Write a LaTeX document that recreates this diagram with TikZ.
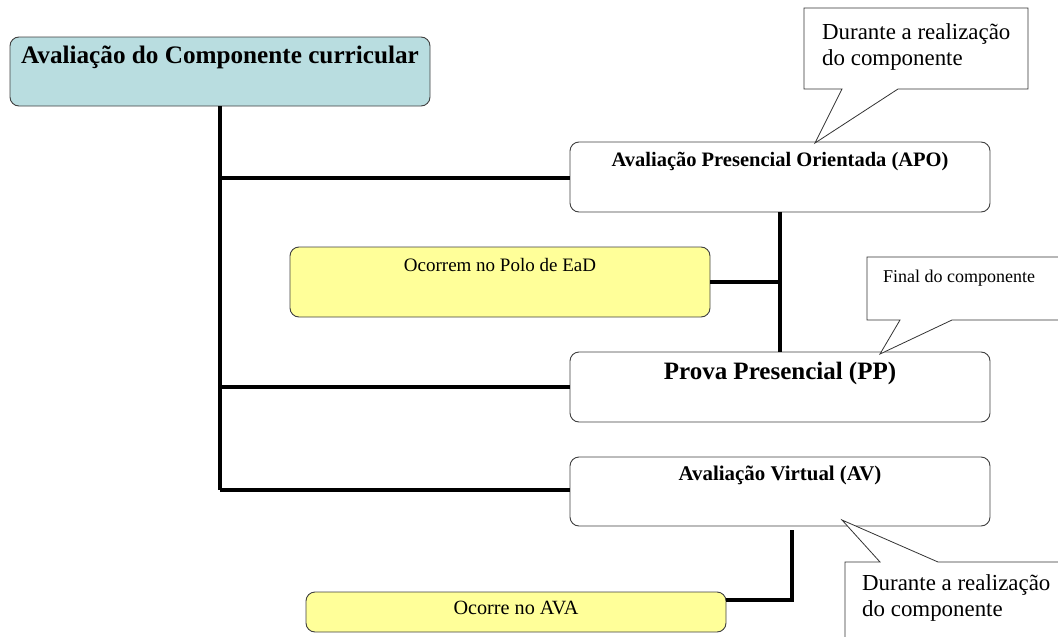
\documentclass[tikz,border=0pt]{standalone}
\usepackage{fontspec}
\setmainfont{Liberation Serif}
\begin{document}
\begin{tikzpicture}[x=1pt,y=-1pt,
  box/.style={draw=black!75, line width=0.9pt, rounded corners=9pt, inner sep=0pt},
  main/.style={box, fill=mainfill},
  yel/.style={box, fill=yelfill},
  wbox/.style={box, fill=white},
  conn/.style={line width=3.8pt, black},
  callout/.style={draw=black!80, line width=0.8pt, fill=white},
  lbl/.style={anchor=base, inner sep=0pt},
  ctext/.style={anchor=north west, align=left, inner sep=0pt, font=\fontsize{22.9}{26}\selectfont},
]
\definecolor{mainfill}{HTML}{B9DDE0}
\definecolor{yelfill}{HTML}{FFFF99}
\useasboundingbox (0,0) rectangle (1058,637);
\clip (0,0) rectangle (1058,637);

% boxes
\node[main, minimum width=420pt, minimum height=69pt] (root) at (220,71.5) {};
\node[lbl, font=\fontsize{25.2}{28}\selectfont\bfseries] (roott) at (220,63) {Avaliação do Componente curricular};

\node[wbox, minimum width=420pt, minimum height=70pt] (apo) at (780,177) {};
\node[lbl, font=\fontsize{20.5}{24}\selectfont\bfseries] (apot) at (780,166) {Avaliação Presencial Orientada (APO)};

\node[yel, minimum width=420pt, minimum height=70pt] (polo) at (500,282) {};
\node[lbl, font=\fontsize{19}{22}\selectfont] (polot) at (500,271) {Ocorrem no Polo de EaD};

\node[wbox, minimum width=420pt, minimum height=70pt] (pp) at (780,387) {};
\node[lbl, font=\fontsize{25}{28}\selectfont\bfseries] (ppt) at (780,379) {Prova Presencial (PP)};

\node[wbox, minimum width=420pt, minimum height=69pt] (av) at (780,491.5) {};
\node[lbl, font=\fontsize{20.9}{24}\selectfont\bfseries] (avt) at (780,480) {Avaliação Virtual (AV)};

\node[yel, minimum width=420pt, minimum height=40pt] (ava) at (516,612) {};
\node[lbl, font=\fontsize{20.2}{24}\selectfont] (avat) at (516,614) {Ocorre no AVA};

% connectors
\coordinate (trunkend) at (220,490);
\coordinate (j1) at (220,178);
\coordinate (apoin) at (570,178);
\coordinate (avin) at (570,490);
\coordinate (apob) at (780,212);
\coordinate (ppb) at (780,352);
\coordinate (apoj) at (780,282);
\coordinate (avb) at (792,530);
\coordinate (avc) at (792,600);
\coordinate (avaend) at (726,600);
\draw[conn] (root.south) -- (trunkend);
\draw[conn] (j1) -- (apoin);
\draw[conn] (220,387) -- (pp.west);
\draw[conn] (trunkend) -- (avin);
\draw[conn] (apob) -- (ppb);
\draw[conn] (polo.east) -- (apoj);
\draw[conn] (avb) -- (avc) -- (avaend);

% callouts
\draw[callout] (804,8) -- (1028,8) -- (1028,89) -- (898,89) -- (815,143) -- (842,89) -- (804,89) -- cycle;
\node[ctext] (c1) at (822,23) {Durante a realização\\do componente};

\draw[callout] (867,257) -- (1070,257) -- (1070,320) -- (952,320) -- (880,354) -- (900,320) -- (867,320) -- cycle;
\node[ctext, font=\fontsize{18}{21}\selectfont] (c2) at (883,270) {Final do componente};

\draw[callout] (845,562) -- (880,562) -- (842,520) -- (938,562) -- (1070,562) -- (1070,660) -- (845,660) -- cycle;
\node[ctext] (c3) at (862,574) {Durante a realização\\do componente};
\end{tikzpicture}
\end{document}
